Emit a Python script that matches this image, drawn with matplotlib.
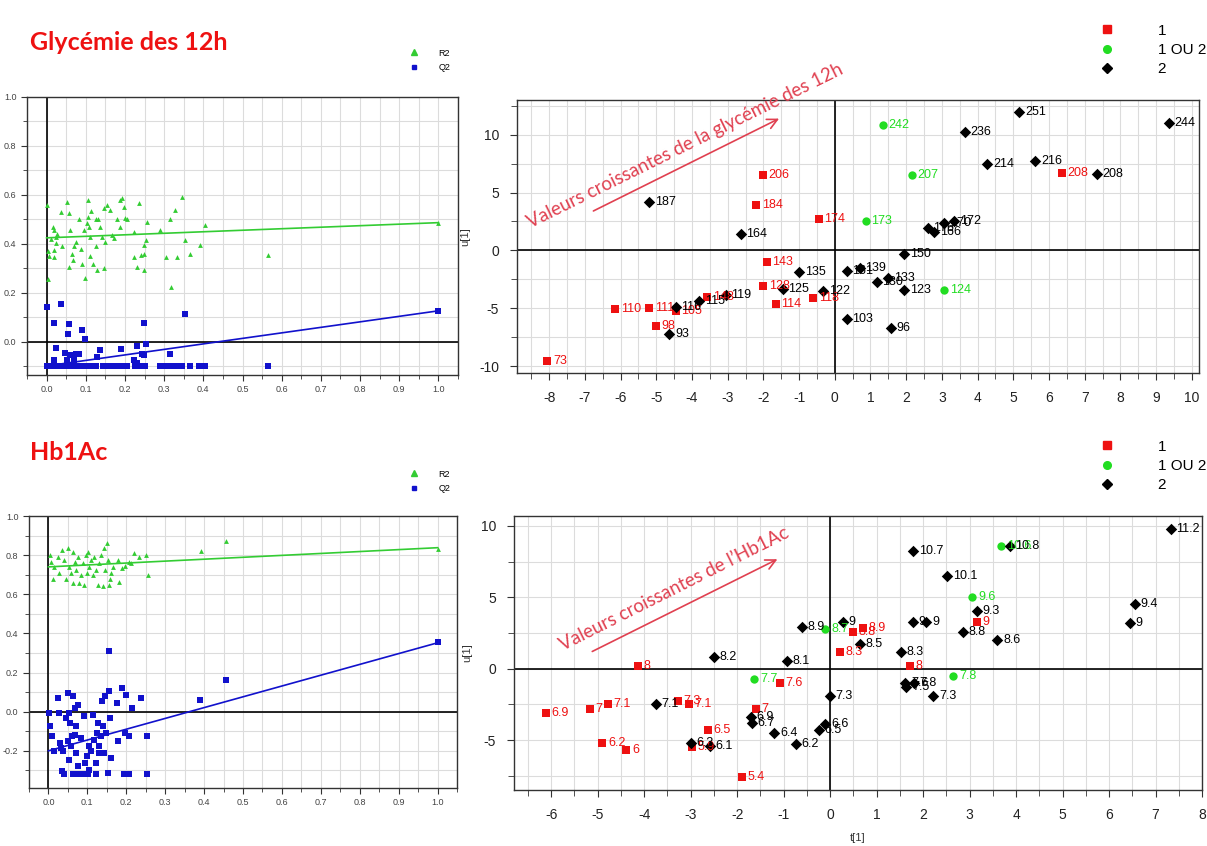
import matplotlib
matplotlib.use("Agg")
import matplotlib.pyplot as plt
from matplotlib.lines import Line2D
from matplotlib.ticker import MultipleLocator

plt.rcParams["font.family"] = ["Liberation Sans", "DejaVu Sans"]
plt.rcParams["axes.unicode_minus"] = False

# ---------- permutation test data (Glycemie des 12h) ----------
g_r2_x = [0.0, 0.004, 0.003, 0.006, 0.01, 0.017, 0.02, 0.023, 0.027, 0.019, 0.025, 0.02,
          0.038, 0.04, 0.053, 0.057, 0.06, 0.057, 0.065, 0.068, 0.071, 0.074, 0.082, 0.087,
          0.09, 0.095, 0.099, 0.105, 0.102, 0.105, 0.108, 0.11, 0.112, 0.114, 0.118, 0.125,
          0.127, 0.13, 0.129, 0.137, 0.142, 0.146, 0.146, 0.15, 0.154, 0.163, 0.167, 0.171,
          0.18, 0.188, 0.192, 0.197, 0.201, 0.205, 0.188, 0.222, 0.222, 0.23, 0.235, 0.24,
          0.248, 0.248, 0.248, 0.253, 0.256, 0.29, 0.305, 0.316, 0.317, 0.328, 0.333, 0.345,
          0.354, 0.366, 0.392, 0.405, 0.565, 1.0]
g_r2_y = [0.56, 0.255, 0.37, 0.35, 0.42, 0.47, 0.457, 0.43, 0.44, 0.375, 0.405, 0.348,
          0.53, 0.39, 0.57, 0.525, 0.457, 0.307, 0.36, 0.334, 0.39, 0.41, 0.5, 0.38,
          0.32, 0.457, 0.26, 0.58, 0.484, 0.51, 0.47, 0.43, 0.35, 0.536, 0.32, 0.5,
          0.39, 0.5, 0.293, 0.47, 0.43, 0.546, 0.3, 0.41, 0.56, 0.54, 0.437, 0.423,
          0.5, 0.58, 0.587, 0.552, 0.505, 0.5, 0.47, 0.45, 0.348, 0.307, 0.566, 0.355,
          0.36, 0.293, 0.396, 0.416, 0.49, 0.457, 0.348, 0.5, 0.225, 0.54, 0.348, 0.59,
          0.416, 0.36, 0.396, 0.477, 0.355, 0.485]
g_q2_x = [0.0, 0.037, 0.019, 0.057, 0.055, 0.091, 0.097, 0.023, 0.248, 0.354, 0.254, 0.231,
          0.137, 0.19, 0.316, 0.048, 0.061, 0.074, 0.082, 0.129, 0.248, 0.243, 0.019, 0.053,
          0.07, 0.222, 0.232,
          0.0, 0.01, 0.02, 0.03, 0.04, 0.055, 0.065, 0.075, 0.085, 0.095, 0.105, 0.115,
          0.125, 0.145, 0.155, 0.165, 0.175, 0.185, 0.195, 0.205, 0.225, 0.235, 0.25, 0.29,
          0.305, 0.315, 0.325, 0.335, 0.345, 0.365, 0.39, 0.405, 0.565, 1.0]
g_q2_y = [0.143, 0.154, 0.078, 0.072, 0.031, 0.05, 0.011, -0.023, 0.078, 0.113, -0.01, -0.016,
          -0.031, -0.03, -0.048, -0.045, -0.055, -0.048, -0.05, -0.061, -0.055, -0.048, -0.075, -0.075,
          -0.075, -0.075, -0.086,
          -0.098, -0.098, -0.098, -0.098, -0.098, -0.098, -0.098, -0.098, -0.098, -0.098, -0.098, -0.098,
          -0.098, -0.098, -0.098, -0.098, -0.098, -0.098, -0.098, -0.098, -0.098, -0.098, -0.098, -0.098,
          -0.098, -0.098, -0.098, -0.098, -0.098, -0.098, -0.098, -0.098, -0.098, 0.127]
g_r2_line = [0.425, 0.487]   # value at x=0 and x=1
g_q2_line = [-0.098, 0.127]

# ---------- permutation test data (Hb1Ac) ----------
h_r2_x = [0.003, 0.007, 0.011, 0.015, 0.024, 0.028, 0.035, 0.041, 0.045, 0.05, 0.054, 0.058,
          0.062, 0.064, 0.067, 0.071, 0.075, 0.079, 0.084, 0.088, 0.092, 0.097, 0.098, 0.101,
          0.105, 0.109, 0.114, 0.118, 0.122, 0.127, 0.131, 0.135, 0.139, 0.144, 0.146, 0.15,
          0.152, 0.155, 0.158, 0.161, 0.165, 0.178, 0.182, 0.19, 0.197, 0.208, 0.212, 0.22,
          0.233, 0.25, 0.256, 0.391, 0.457, 1.0]
h_r2_y = [0.80, 0.767, 0.68, 0.74, 0.79, 0.707, 0.827, 0.775, 0.68, 0.835, 0.74, 0.707,
          0.656, 0.818, 0.767, 0.724, 0.79, 0.656, 0.70, 0.758, 0.648, 0.80, 0.707, 0.818,
          0.74, 0.775, 0.70, 0.79, 0.724, 0.648, 0.758, 0.80, 0.64, 0.835, 0.724, 0.86,
          0.775, 0.648, 0.68, 0.707, 0.74, 0.775, 0.664, 0.733, 0.745, 0.767, 0.758, 0.81,
          0.79, 0.80, 0.70, 0.823, 0.874, 0.83]
h_q2_x = [0.001, 0.003, 0.009, 0.013, 0.024, 0.026, 0.03, 0.032, 0.035, 0.037, 0.041, 0.045,
          0.05, 0.05, 0.053, 0.054, 0.056, 0.058, 0.06, 0.062, 0.064, 0.067, 0.069, 0.071,
          0.072, 0.075, 0.076, 0.078, 0.084, 0.088, 0.092, 0.095, 0.098, 0.101, 0.104, 0.105,
          0.109, 0.115, 0.118, 0.121, 0.122, 0.124, 0.127, 0.129, 0.131, 0.135, 0.137, 0.141,
          0.144, 0.146, 0.148, 0.152, 0.155, 0.155, 0.158, 0.161, 0.175, 0.18, 0.19, 0.195,
          0.197, 0.199, 0.206, 0.206, 0.216, 0.237, 0.253, 0.252, 0.39, 0.456, 1.0]
h_q2_y = [-0.007, -0.075, -0.126, -0.2, 0.07, -0.007, -0.16, -0.185, -0.304, -0.202, -0.32, -0.032,
          0.095, -0.151, -0.245, -0.007, -0.058, -0.177, -0.126, 0.078, -0.32, -0.117, 0.019, -0.075,
          -0.211, 0.036, -0.279, -0.32, -0.134, -0.32, -0.024, -0.262, -0.228, -0.32, -0.177, -0.296,
          -0.202, -0.015, -0.143, -0.262, -0.32, -0.109, -0.058, -0.177, -0.211, -0.126, 0.053, -0.075,
          -0.211, 0.078, -0.109, -0.313, 0.308, 0.104, -0.032, -0.236, 0.044, -0.151, 0.121, -0.32,
          -0.109, 0.087, -0.32, -0.126, 0.019, 0.07, -0.126, -0.32, 0.058, 0.163, 0.355]
h_r2_line = [0.74, 0.838]
h_q2_line = [-0.2, 0.352]

# ---------- score plot data (Glycemie des 12h) ----------
g_t = [-2.02, -2.2, -0.45, -5.2, -2.64, -1.9, -1.0, -2.0, -1.46, -0.33, -0.6, -1.65,
       -3.05, -3.57, -3.8, -5.2, -6.15, -4.45, -4.45, -5.0, -4.63, -8.05,
       1.35, 5.17, 3.65, 9.35, 4.27, 5.62, 6.35, 7.35, 2.16, 0.87,
       2.6, 2.78, 3.06, 3.35, 1.95, 0.33, 0.7, 1.18, 1.5, 1.95, 3.06, 0.33, 1.57]
g_u = [6.5, 3.9, 2.7, 4.2, 1.4, -1.0, -1.9, -3.1, -3.3, -3.5, -4.1, -4.6,
       -3.9, -4.0, -4.4, -5.0, -5.1, -4.9, -5.2, -6.5, -7.2, -9.6,
       10.8, 12.0, 10.2, 11.0, 7.5, 7.75, 6.7, 6.6, 6.55, 2.5,
       1.9, 1.6, 2.4, 2.5, -0.3, -1.8, -1.5, -2.7, -2.4, -3.4, -3.45, -5.9, -6.7]
g_lab = ["206", "184", "174", "187", "164", "143", "135", "128", "125", "122", "118", "114",
         "119", "148", "115", "111", "110", "116", "105", "98", "93", "73",
         "242", "251", "236", "244", "214", "216", "208", "208", "207", "173",
         "176", "166", "170", "172", "150", "161", "139", "130", "133", "123", "124", "103", "96"]
g_grp = ["1", "1", "1", "2", "2", "1", "2", "1", "2", "2", "1", "1",
         "2", "1", "2", "1", "1", "2", "1", "1", "2", "1",
         "1 OU 2", "2", "2", "2", "2", "2", "1", "2", "1 OU 2", "1 OU 2",
         "2", "2", "2", "2", "2", "2", "2", "2", "2", "2", "1 OU 2", "2", "2"]

# ---------- score plot data (Hb1Ac) ----------
h_t = [-6.12, -5.17, -4.78, -4.9, -4.38, -4.14, -3.75, -3.27, -3.04, -2.63, -2.99, -2.97,
       -2.59, -2.5, -1.63, -1.08, -0.93, -1.6, -1.7, -1.68, -1.2, -0.73, -1.9, -0.6,
       -0.1, 0.28, 0.5, 0.71, 0.65, 0.22, 0.0, -0.1, -0.24, 1.53, 1.72, 1.78, 2.07,
       1.62, 1.64, 1.8, 2.22, 2.65, 2.85, 3.15, 3.15, 3.06, 1.79, 2.52, 3.68, 3.86,
       3.6, 6.55, 6.45, 7.33]
h_u = [-3.1, -2.8, -2.5, -5.2, -5.7, 0.2, -2.5, -2.25, -2.5, -4.3, -5.2, -5.5,
       -5.45, 0.85, -0.7, -1.0, 0.55, -2.8, -3.35, -3.8, -4.5, -5.25, -7.6, 2.9,
       2.8, 3.3, 2.6, 2.85, 1.7, 1.15, -1.9, -3.9, -4.3, 1.2, 0.2, 3.3, 3.3,
       -1.0, -1.25, -1.0, -1.9, -0.5, 2.6, 3.3, 4.05, 5.0, 8.25, 6.5, 8.6, 8.6,
       2.0, 4.5, 3.2, 9.8]
h_lab = ["6.9", "7", "7.1", "6.2", "6", "8", "7.1", "7.3", "7.1", "6.5", "6.3", "5.9",
         "6.1", "8.2", "7.7", "7.6", "8.1", "7", "6.9", "6.7", "6.4", "6.2", "5.4", "8.9",
         "8.7", "9", "8.8", "8.9", "8.5", "8.3", "7.3", "6.6", "6.5", "8.3", "8", "9", "9",
         "7.6", "7.5", "7.8", "7.3", "7.8", "8.8", "9", "9.3", "9.6", "10.7", "10.1", "10.6", "10.8",
         "8.6", "9.4", "9", "11.2"]
h_grp = ["1", "1", "1", "1", "1", "1", "2", "1", "1", "1", "2", "1",
         "2", "2", "1 OU 2", "1", "2", "1", "2", "2", "2", "2", "1", "2",
         "1 OU 2", "2", "1", "1", "2", "1", "2", "2", "2", "2", "1", "2", "2",
         "2", "2", "2", "2", "1 OU 2", "2", "1", "2", "1 OU 2", "2", "2", "1 OU 2", "2",
         "2", "2", "2", "2"]

groups = ["1", "1 OU 2", "2"]
grp_color = {"1": "#ee1111", "1 OU 2": "#22dd22", "2": "#000000"}
grp_marker = {"1": "s", "1 OU 2": "o", "2": "D"}
grp_size = {"1": 36, "1 OU 2": 36, "2": 34}

R2_COL = "#33cc33"
Q2_COL = "#1111cc"
TITLE_COL = "#ee1111"
GRID_COL = "#dcdcdc"
ARROW_COL = "#e04050"

fig = plt.figure(figsize=(12.07, 8.46), dpi=100)
W, H = 1207, 846


def px_axes(l, t, r, b):
    return fig.add_axes([l / W, 1 - b / H, (r - l) / W, (b - t) / H])


def perm_plot(ax, r2x, r2y, q2x, q2y, r2line, q2line, ylim, ymin_lab):
    ax.set_xlim(-0.05, 1.05)
    ax.set_ylim(*ylim)
    ax.xaxis.set_minor_locator(MultipleLocator(0.05))
    ax.yaxis.set_minor_locator(MultipleLocator(0.1))
    ax.grid(True, which="both", color=GRID_COL, lw=0.8)
    ax.set_axisbelow(True)
    ax.axhline(0, color="black", lw=1.2, zorder=1)
    ax.axvline(0, color="black", lw=1.2, zorder=1)
    ax.plot([0, 1], r2line, color=R2_COL, lw=1.2, zorder=2)
    ax.plot([0, 1], q2line, color=Q2_COL, lw=1.2, zorder=2)
    ax.scatter(r2x, r2y, marker="^", s=12, color=R2_COL, lw=0, zorder=3)
    ax.scatter(q2x, q2y, marker="s", s=14, color=Q2_COL, lw=0, zorder=3)
    ax.tick_params(which="both", direction="out", labelsize=6.5, labelcolor="#444444",
                   color="#333333")
    ax.tick_params(which="major", length=4)
    ax.tick_params(which="minor", length=3)
    xt = [round(v * 0.1, 1) for v in range(11)]
    ax.set_xticks(xt)
    ax.set_xticklabels(["%.1f" % v for v in xt])
    yt = [round(ymin_lab + 0.2 * i, 1) for i in range(int(round((1.0 - ymin_lab) / 0.2)) + 1)]
    ax.set_yticks(yt)
    ax.set_yticklabels(["%.1f" % v for v in yt])
    for s in ax.spines.values():
        s.set_color("#333333")
        s.set_linewidth(1.0)


def score_plot(ax, t, u, lab, grp, xlim, ylim):
    ax.set_xlim(*xlim)
    ax.set_ylim(*ylim)
    ax.xaxis.set_major_locator(MultipleLocator(1))
    ax.xaxis.set_minor_locator(MultipleLocator(0.5))
    ax.yaxis.set_major_locator(MultipleLocator(5))
    ax.yaxis.set_minor_locator(MultipleLocator(2.5))
    ax.grid(True, which="both", color=GRID_COL, lw=0.8)
    ax.set_axisbelow(True)
    ax.axhline(0, color="black", lw=1.2, zorder=1)
    ax.axvline(0, color="black", lw=1.2, zorder=1)
    for g in groups:
        idx = [i for i in range(len(t)) if grp[i] == g]
        ax.scatter([t[i] for i in idx], [u[i] for i in idx], marker=grp_marker[g],
                   s=grp_size[g], color=grp_color[g], lw=0, zorder=3)
        for i in idx:
            ax.annotate(lab[i], (t[i], u[i]), xytext=(4, 0), textcoords="offset points",
                        va="center", ha="left", fontsize=9, color=grp_color[g], zorder=4)
    ax.tick_params(which="both", direction="out", labelsize=10, labelcolor="#222222",
                   color="#333333")
    ax.tick_params(which="major", length=5, pad=8)
    ax.tick_params(which="minor", length=4)
    for s in ax.spines.values():
        s.set_color("#333333")
        s.set_linewidth(1.0)
    ax.set_ylabel("u[1]", fontsize=8, color="#333333", labelpad=6)


# ----- top row -----
ax1 = px_axes(27, 97, 458, 375)
perm_plot(ax1, g_r2_x, g_r2_y, g_q2_x, g_q2_y, g_r2_line, g_q2_line, (-0.135, 1.0), 0.0)

ax2 = px_axes(517, 100, 1199, 373)
score_plot(ax2, g_t, g_u, g_lab, g_grp, (-8.9, 10.2), (-10.6, 13.0))
ax2.annotate("", xy=(-1.49, 11.5), xytext=(-6.83, 3.3),
             arrowprops=dict(arrowstyle="->", color=ARROW_COL, lw=1.2, mutation_scale=18))
ax2.text(-4.2, 9.0, "Valeurs croissantes de la glycémie des 12h", rotation=26.3,
         rotation_mode="anchor", ha="center", va="center", fontsize=13.5,
         color=ARROW_COL, family="Lato")

# ----- bottom row -----
ax3 = px_axes(29, 516, 457, 788)
perm_plot(ax3, h_r2_x, h_r2_y, h_q2_x, h_q2_y, h_r2_line, h_q2_line, (-0.39, 1.0), -0.2)

ax4 = px_axes(514, 516, 1202, 790)
score_plot(ax4, h_t, h_u, h_lab, h_grp, (-6.8, 8.0), (-8.5, 10.7))
ax4.annotate("", xy=(-1.08, 7.76), xytext=(-5.17, 1.12),
             arrowprops=dict(arrowstyle="->", color=ARROW_COL, lw=1.2, mutation_scale=18))
ax4.text(-3.35, 5.6, "Valeurs croissantes de l\u2019Hb1Ac", rotation=26.7,
         rotation_mode="anchor", ha="center", va="center", fontsize=13.5,
         color=ARROW_COL, family="Lato")
ax4.set_xlabel("t[1]", fontsize=8, color="#333333", labelpad=8)

# ----- titles -----
fig.text(30 / W, 1 - 42 / H, "Glycémie des 12h", fontsize=18, fontweight="bold",
         color=TITLE_COL, family="Lato", va="center", ha="left")
fig.text(30 / W, 1 - 452 / H, "Hb1Ac", fontsize=18, fontweight="bold",
         color=TITLE_COL, family="Lato", va="center", ha="left")

# ----- legends -----
perm_handles = [Line2D([], [], ls="", marker="^", ms=4, color=R2_COL),
                Line2D([], [], ls="", marker="s", ms=3.5, color=Q2_COL)]
for ytop in (44, 465):
    fig.legend(perm_handles, ["R2", "Q2"], loc="upper left",
               bbox_to_anchor=(405 / W, 1 - ytop / H), frameon=False, fontsize=6.5,
               handlelength=1.0, handletextpad=2.2, labelspacing=0.6, borderpad=0)

score_handles = [Line2D([], [], ls="", marker=grp_marker[g], ms=5.5, color=grp_color[g])
                 for g in groups]
for ytop in (16, 432):
    fig.legend(score_handles, groups, loc="upper left",
               bbox_to_anchor=(1092 / W, 1 - ytop / H), frameon=False, fontsize=11,
               handlelength=1.0, handletextpad=2.8, labelspacing=0.35, borderpad=0)

fig.savefig("out.png", dpi=100)
